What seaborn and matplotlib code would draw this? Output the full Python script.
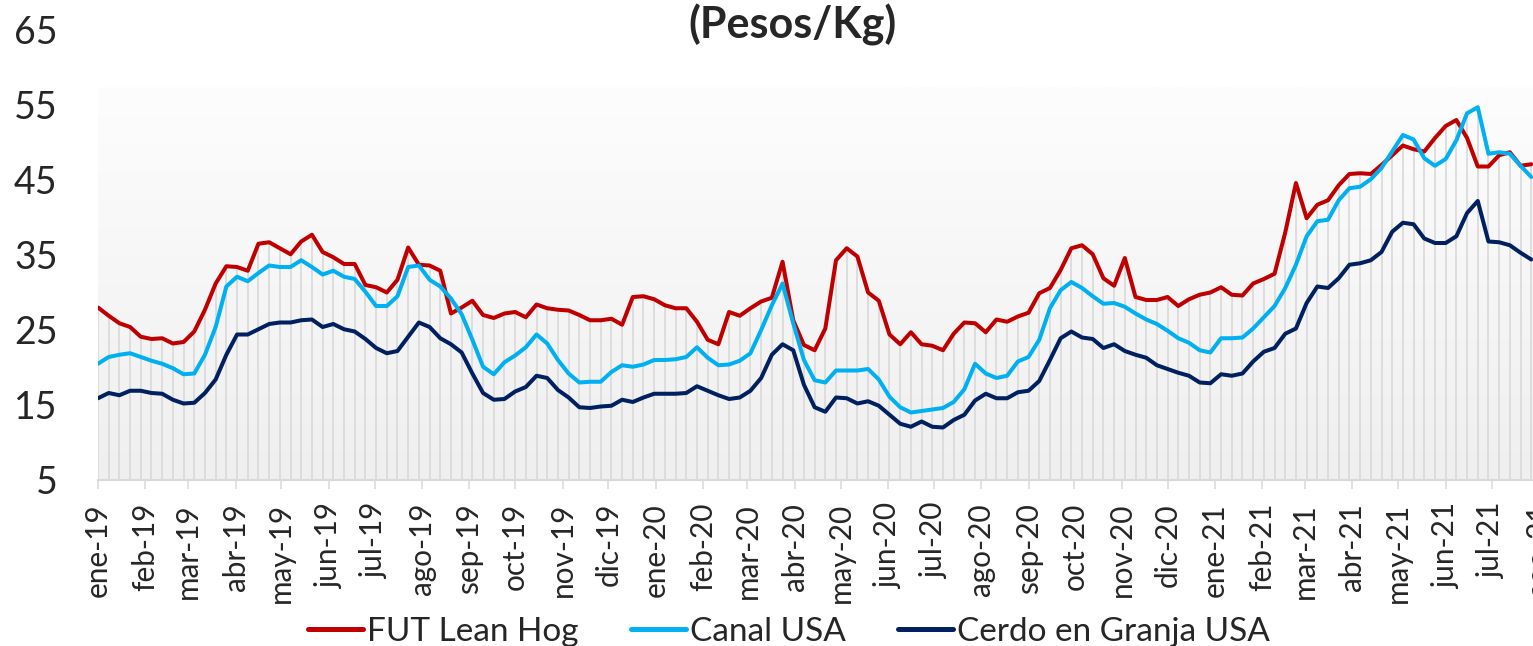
import numpy as np
import pandas as pd
import matplotlib
matplotlib.use("Agg")
import matplotlib.pyplot as plt
import matplotlib.dates as mdates
from matplotlib.colors import LinearSegmentedColormap
import seaborn as sns

# weekly prices (pesos/kg), starting first week of 2019
fut_lean_hog = [
    28.0, 26.9, 25.9, 25.4, 24.1, 23.8, 23.9, 23.2, 23.4, 24.8,
    27.7, 31.2, 33.5, 33.4, 32.9, 36.5, 36.7, 35.9, 35.1, 36.8,
    37.7, 35.4, 34.7, 33.8, 33.8, 31.0, 30.7, 30.0, 31.7, 36.0,
    33.7, 33.6, 32.9, 27.2, 28.0, 28.9, 27.0, 26.6, 27.2, 27.4,
    26.7, 28.4, 27.9, 27.7, 27.6, 27.0, 26.3, 26.3, 26.5, 25.7,
    29.4, 29.5, 29.1, 28.3, 27.9, 27.9, 26.1, 23.7, 23.1, 27.4,
    26.9, 27.9, 28.8, 29.3, 34.1, 26.3, 23.0, 22.3, 25.2, 34.3,
    35.9, 34.8, 30.0, 28.9, 24.4, 23.1, 24.7, 23.1, 22.9, 22.3,
    24.5, 26.0, 25.9, 24.7, 26.4, 26.1, 26.8, 27.3, 29.9, 30.6,
    33.0, 35.9, 36.3, 35.1, 31.9, 30.9, 34.6, 29.4, 29.0, 29.0,
    29.4, 28.2, 29.1, 29.7, 30.0, 30.7, 29.7, 29.6, 31.2, 31.8,
    32.5, 38.0, 44.6, 39.9, 41.7, 42.3, 44.3, 45.8, 45.9, 45.8,
    47.0, 48.3, 49.6, 49.1, 48.8, 50.6, 52.2, 53.0, 50.6, 46.8,
    46.8, 48.3, 48.7, 46.9, 47.1,
]
canal_usa = [
    20.5, 21.4, 21.7, 21.9, 21.4, 20.9, 20.5, 19.9, 19.1, 19.2,
    21.7, 25.4, 30.8, 32.1, 31.5, 32.6, 33.6, 33.4, 33.4, 34.3,
    33.4, 32.4, 32.9, 32.1, 31.8, 30.1, 28.2, 28.2, 29.5, 33.4,
    33.6, 31.7, 30.8, 29.2, 27.1, 23.7, 20.1, 19.1, 20.7, 21.6,
    22.7, 24.4, 23.2, 21.0, 19.2, 18.0, 18.1, 18.1, 19.4, 20.3,
    20.1, 20.4, 21.0, 21.0, 21.1, 21.4, 22.7, 21.3, 20.3, 20.4,
    20.9, 21.9, 25.0, 28.3, 31.2, 25.9, 21.0, 18.3, 18.0, 19.6,
    19.6, 19.6, 19.8, 18.4, 16.1, 14.7, 14.0, 14.2, 14.4, 14.6,
    15.4, 17.1, 20.5, 19.2, 18.6, 18.9, 20.8, 21.4, 23.7, 27.9,
    30.3, 31.4, 30.6, 29.5, 28.5, 28.6, 28.1, 27.2, 26.4, 25.8,
    24.9, 23.9, 23.3, 22.3, 22.0, 23.9, 23.9, 24.0, 25.2, 26.7,
    28.2, 30.6, 33.7, 37.5, 39.5, 39.7, 42.3, 43.9, 44.1, 45.1,
    46.6, 48.8, 51.0, 50.4, 47.9, 46.9, 47.8, 50.3, 53.9, 54.7,
    48.5, 48.7, 48.5, 46.9, 45.4,
]
cerdo_granja_usa = [
    15.9, 16.6, 16.3, 16.9, 16.9, 16.6, 16.5, 15.7, 15.2, 15.3,
    16.6, 18.4, 21.7, 24.4, 24.4, 25.1, 25.8, 26.0, 26.0, 26.3,
    26.4, 25.4, 25.8, 25.1, 24.8, 23.8, 22.6, 21.9, 22.2, 24.1,
    26.0, 25.4, 23.9, 23.1, 22.0, 19.2, 16.6, 15.7, 15.8, 16.8,
    17.4, 18.9, 18.6, 17.0, 16.0, 14.7, 14.6, 14.8, 14.9, 15.7,
    15.4, 16.0, 16.5, 16.5, 16.5, 16.6, 17.5, 16.9, 16.3, 15.8,
    16.0, 16.9, 18.6, 21.7, 23.1, 22.3, 17.7, 14.7, 14.1, 16.0,
    15.9, 15.2, 15.5, 14.9, 13.7, 12.5, 12.1, 12.8, 12.1, 12.0,
    13.0, 13.7, 15.6, 16.5, 15.9, 15.9, 16.7, 16.9, 18.2, 21.0,
    23.9, 24.8, 24.0, 23.8, 22.6, 23.1, 22.2, 21.7, 21.3, 20.3,
    19.8, 19.3, 18.9, 18.0, 17.9, 19.1, 18.9, 19.2, 20.8, 22.1,
    22.6, 24.5, 25.2, 28.6, 30.8, 30.6, 31.9, 33.7, 33.9, 34.3,
    35.4, 38.1, 39.3, 39.1, 37.2, 36.6, 36.6, 37.5, 40.6, 42.2,
    36.8, 36.7, 36.3, 35.3, 34.4,
]
series_names = ["FUT Lean Hog", "Canal USA", "Cerdo en Granja USA"]
series_colors = ["#c00000", "#00b0f0", "#002060"]
month_abbr = ["ene", "feb", "mar", "abr", "may", "jun",
              "jul", "ago", "sep", "oct", "nov", "dic"]
y_ticks = [5, 15, 25, 35, 45, 55, 65]

sns.set_style("white")
plt.rcParams["font.family"] = ["Lato", "DejaVu Sans"]

dates = pd.date_range("2019-01-01", periods=len(fut_lean_hog), freq="7D")
wide = pd.DataFrame({"fecha": dates,
                     series_names[0]: fut_lean_hog,
                     series_names[1]: canal_usa,
                     series_names[2]: cerdo_granja_usa})
df = wide.melt(id_vars="fecha", var_name="serie", value_name="precio")

W, H = 1533, 646
fig = plt.figure(figsize=(W / 100, H / 100), dpi=100)
ax = fig.add_axes([98 / W, 166 / H, 1447 / W, 450 / H])

x0 = pd.Timestamp("2019-01-01")
x1 = pd.Timestamp("2021-08-05")

# soft gradient background of the plot area
grad = np.linspace(0, 1, 256).reshape(-1, 1)
cmap = LinearSegmentedColormap.from_list("bg", ["#fdfdfd", "#efefef"])
ax.imshow(grad, extent=[mdates.date2num(x0), mdates.date2num(x1), 5, 57.3],
          aspect="auto", cmap=cmap, origin="upper", zorder=0)

# drop lines from the highest series down to the axis
top = wide[series_names].max(axis=1)
ax.vlines(wide["fecha"], 5, top, color="#d9d9d9", lw=1.2, zorder=1)

sns.lineplot(data=df, x="fecha", y="precio", hue="serie",
             palette=series_colors, linewidth=2.9, ax=ax, zorder=3)
handles, labels = ax.get_legend_handles_labels()
ax.get_legend().remove()

ax.set_xlim(x0, x1)
ax.set_ylim(5, 65)
ax.set_yticks(y_ticks)
ax.set_xlabel("")
ax.set_ylabel("")

months = pd.date_range("2019-01-01", "2021-08-01", freq="MS")
ax.set_xticks(months)
ax.set_xticklabels([f"{month_abbr[m.month - 1]}-{m.strftime('%y')}" for m in months],
                   rotation=90, fontsize=21.4)
ax.tick_params(axis="x", bottom=True, direction="out", length=6.5, width=1.1,
               color="#d9d9d9", pad=10)
ax.tick_params(axis="y", length=0, pad=29, labelsize=27)

for side in ["top", "right", "left"]:
    ax.spines[side].set_visible(False)
ax.spines["bottom"].set_color("#d9d9d9")
ax.spines["bottom"].set_linewidth(1.5)

fig.text(793 / W, 1 - 25 / H, "(Pesos/Kg)", ha="center", va="center",
         fontsize=31, fontweight="bold")

leg = fig.legend(handles, labels, loc="center", bbox_to_anchor=(789 / W, 14 / H),
                 ncol=3, frameon=False, fontsize=24, handlelength=1.65,
                 handletextpad=0.12, columnspacing=1.56)
for line in leg.get_lines():
    line.set_linewidth(3.6)

fig.savefig("out.png", dpi=100)
